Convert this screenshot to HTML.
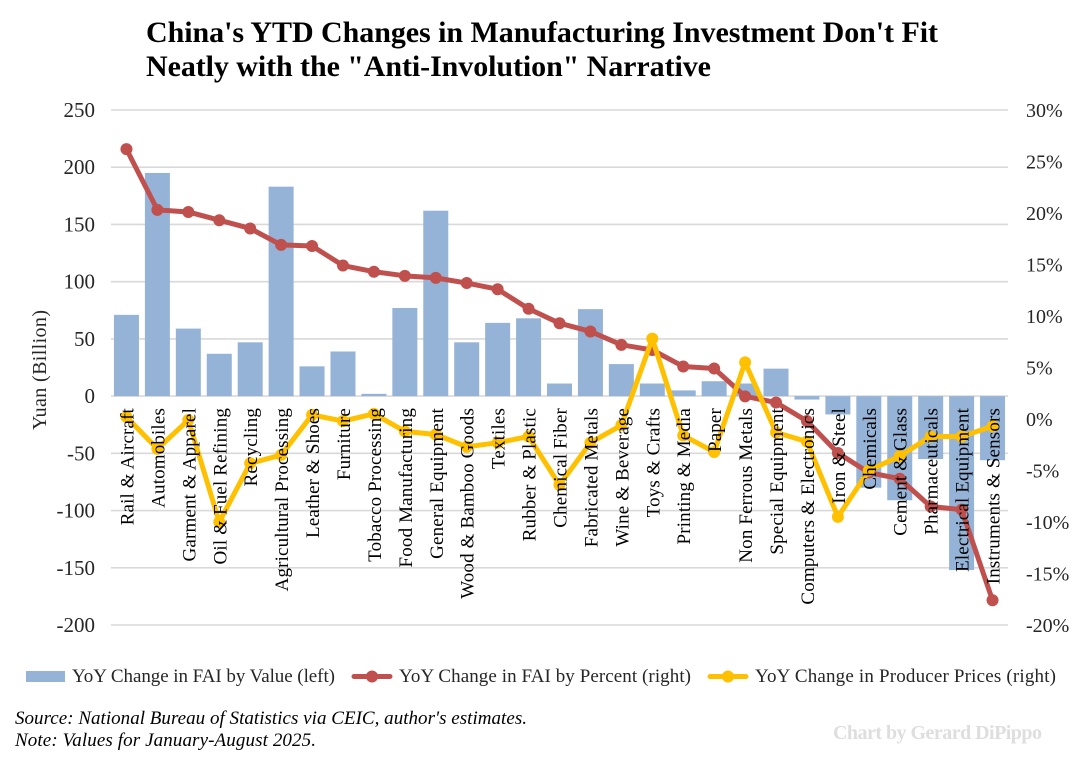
<!DOCTYPE html>
<html lang="en">
<head>
<meta charset="utf-8">
<title>China's YTD Changes in Manufacturing Investment</title>
<style>
html,body{margin:0;padding:0;background:#fff;}
svg{display:block;font-family:"Liberation Serif",serif;}
</style>
</head>
<body>
<svg id="chart" width="1082" height="758" viewBox="0 0 1082 758" xmlns="http://www.w3.org/2000/svg">
  <text x="146" y="42" font-size="30" font-weight="bold" fill="#000" textLength="792" lengthAdjust="spacing">China's YTD Changes in Manufacturing Investment Don't Fit</text>
  <text x="146" y="76" font-size="30" font-weight="bold" fill="#000" textLength="565" lengthAdjust="spacing">Neatly with the "Anti-Involution" Narrative</text>
  <g id="grid"></g>
  <g id="bars"></g>
  <g id="lines"></g>
  <g id="xlabels"></g>
  <g id="yleft"></g>
  <g id="yright"></g>
  <text transform="translate(46,370) rotate(-90)" text-anchor="middle" font-size="20" fill="#262626" textLength="120" lengthAdjust="spacing">Yuan (Billion)</text>

  <g>
    <g>
      <rect x="26" y="671" width="39" height="11" fill="#95B3D7"/>
      <text x="72" y="682" font-size="19" fill="#262626" textLength="263" lengthAdjust="spacing">YoY Change in FAI by Value (left)</text>
    </g>
    <g>
      <line x1="354" y1="676.5" x2="390" y2="676.5" stroke="#C0504D" stroke-width="5" stroke-linecap="round"/>
      <circle cx="372" cy="676.5" r="6" fill="#C0504D"/>
      <text x="399" y="682" font-size="19" fill="#262626" textLength="292" lengthAdjust="spacing">YoY Change in FAI by Percent (right)</text>
    </g>
    <g>
      <line x1="710" y1="676.5" x2="746" y2="676.5" stroke="#FFC000" stroke-width="5" stroke-linecap="round"/>
      <circle cx="728" cy="676.5" r="6" fill="#FFC000"/>
      <text x="755" y="682" font-size="19" fill="#262626" textLength="301" lengthAdjust="spacing">YoY Change in Producer Prices (right)</text>
    </g>
  </g>

  <text x="15" y="724" font-size="19" font-style="italic" fill="#000" textLength="512" lengthAdjust="spacing">Source: National Bureau of Statistics via CEIC, author's estimates.</text>
  <text x="15" y="746" font-size="19" font-style="italic" fill="#000" textLength="301" lengthAdjust="spacing">Note: Values for January-August 2025.</text>
  <text x="833" y="739" font-size="20" font-weight="bold" fill="#dedede" textLength="209" lengthAdjust="spacing">Chart by Gerard DiPippo</text>
</svg>
<script>
const categories = ["Rail & Aircraft","Automobiles","Garment & Apparel","Oil & Fuel Refining","Recycling","Agricultural Processing","Leather & Shoes","Furniture","Tobacco Processing","Food Manufacturing","General Equipment","Wood & Bamboo Goods","Textiles","Rubber & Plastic","Chemical Fiber","Fabricated Metals","Wine & Beverage","Toys & Crafts","Printing & Media","Paper","Non Ferrous Metals","Special Equipment","Computers & Electronics","Iron & Steel","Chemicals","Cement & Glass","Pharmaceuticals","Electrical Equipment","Instruments & Sensors"];
const faiValue = [71,195,59,37,47,183,26,39,2,77,162,47,64,68,11,76,28,11,5,13,11,24,-3,-16,-80,-91,-55,-152,-56];
const faiPercent = [26.2,20.3,20.1,19.3,18.5,16.9,16.8,14.9,14.3,13.9,13.7,13.2,12.6,10.7,9.3,8.5,7.2,6.7,5.1,4.9,2.2,1.6,-0.2,-3.3,-5.2,-5.8,-8.5,-8.8,-17.6];
const producerPrices = [0.2,-2.9,-0.1,-10,-4.3,-3.5,0.4,-0.2,0.5,-1.2,-1.5,-2.7,-2.3,-1.7,-6.4,-2.3,-0.6,7.8,-1.6,-3.2,5.5,-1.3,-2.2,-9.5,-5,-3.6,-1.7,-1.7,-0.7];
const leftTicks = [250,200,150,100,50,0,-50,-100,-150,-200];
const rightTicks = [30,25,20,15,10,5,0,-5,-10,-15,-20];

const NS = "http://www.w3.org/2000/svg";
const plotLeft = 111, plotRight = 1008, plotTop = 110, plotBottom = 625;
const barWidth = 25;

function xPos(i){ return plotLeft + (plotRight - plotLeft) * (i + 0.5) / categories.length; }
function yLeft(v){ return plotBottom - (v - (-200)) / 450 * (plotBottom - plotTop); }
function yRight(v){ return plotBottom - (v - (-20)) / 50 * (plotBottom - plotTop); }
function slug(s){ return s.toLowerCase().replace(/[^a-z0-9]+/g, "-"); }
function make(tag, attrs, parent){
  const el = document.createElementNS(NS, tag);
  for (const k in attrs) el.setAttribute(k, attrs[k]);
  parent.appendChild(el);
  return el;
}

const grid = document.getElementById("grid");
leftTicks.forEach(function(t){
  const el = make("line", {x1: plotLeft, x2: plotRight, y1: yLeft(t), y2: yLeft(t), stroke: "#D9D9D9", "stroke-width": 1.6}, grid);
  
  
});

const bars = document.getElementById("bars");
faiValue.forEach(function(v, i){
  const y0 = yLeft(0), y1 = yLeft(v);
  const el = make("rect", {x: xPos(i) - barWidth / 2, y: Math.min(y0, y1), width: barWidth, height: Math.abs(y1 - y0), fill: "#95B3D7"}, bars);
  
  
});

const lines = document.getElementById("lines");
function drawSeries(values, color, name){
  const g = make("g", {}, lines);
  
  
  const pts = values.map(function(v, i){ return xPos(i) + "," + yRight(v); }).join(" ");
  const pl = make("polyline", {points: pts, fill: "none", stroke: color, "stroke-width": 5, "stroke-linejoin": "round", "stroke-linecap": "round"}, g);
  
  
  values.forEach(function(v, i){
    const c = make("circle", {cx: xPos(i), cy: yRight(v), r: 6, fill: color}, g);
    
    
  });
}
drawSeries(faiPercent, "#C0504D", "fai-percent");
drawSeries(producerPrices, "#FFC000", "producer-prices");

const xl = document.getElementById("xlabels");
categories.forEach(function(c, i){
  const el = make("text", {transform: "translate(" + (xPos(i) + 7) + ",408) rotate(-90)", "text-anchor": "end", "font-size": 19, fill: "#000", "letter-spacing": 0.15}, xl);
  
  
  el.textContent = c;
});

const yl = document.getElementById("yleft");
leftTicks.forEach(function(t){
  const el = make("text", {x: 95, y: yLeft(t) + 7, "text-anchor": "end", "font-size": 21, fill: "#262626"}, yl);
  
  
  el.textContent = t;
});

const yr = document.getElementById("yright");
rightTicks.forEach(function(t){
  const el = make("text", {x: 1026, y: yRight(t) + 7, "font-size": 20, fill: "#262626"}, yr);
  
  
  el.textContent = t + "%";
});
</script>
</body>
</html>
